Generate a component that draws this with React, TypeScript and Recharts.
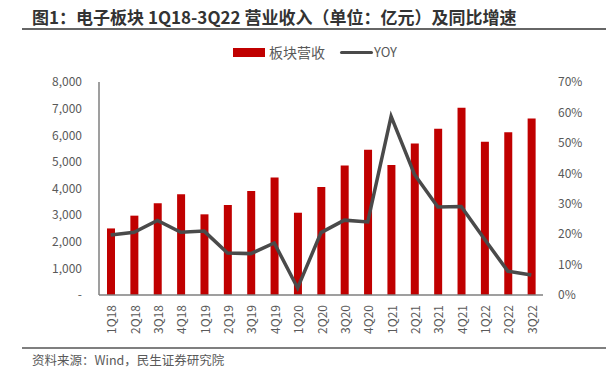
import React from "react";
import {
  ComposedChart,
  Bar,
  Line,
  XAxis,
  YAxis,
} from "recharts";

const quarters = [
  "1Q18", "2Q18", "3Q18", "4Q18",
  "1Q19", "2Q19", "3Q19", "4Q19",
  "1Q20", "2Q20", "3Q20", "4Q20",
  "1Q21", "2Q21", "3Q21", "4Q21",
  "1Q22", "2Q22", "3Q22",
];

// 板块营收（亿元）
const revenue = [
  2500, 2980, 3450, 3780,
  3030, 3380, 3910, 4410,
  3090, 4060, 4860, 5460,
  4880, 5690, 6240, 7030,
  5760, 6110, 6630,
];

// YOY (%)
const yoy = [
  19.7, 20.6, 24.5, 20.6,
  21.0, 13.8, 13.6, 17.1,
  2.3, 20.5, 24.6, 24.0,
  58.7, 39.6, 28.9, 29.1,
  18.3, 7.8, 6.6,
];

const leftTicks = [0, 1000, 2000, 3000, 4000, 5000, 6000, 7000, 8000];
const rightTicks = [0, 10, 20, 30, 40, 50, 60, 70];

const data = quarters.map((q, i) => ({ q, revenue: revenue[i], yoy: yoy[i] }));

const FONT = '"Noto Sans CJK SC", "Noto Sans", sans-serif';
const GRAY = "#595959";
const RED = "#c00000";
const LINE = "#4a4a4a";

const fmtLeft = (v: number) => (v === 0 ? "-" : v.toLocaleString("en-US"));

function QuarterTick(props: any) {
  const { x, y, payload } = props;
  return (
    <text
      x={x}
      y={y}
      transform={`rotate(-90, ${x}, ${y})`}
      textAnchor="end"
      dominantBaseline="central"
      fontSize={12}
      fill={GRAY}
      fontFamily={FONT}
    >
      {payload.value}
    </text>
  );
}

function LegendBox() {
  return (
    <div
      style={{
        position: "absolute",
        top: 42,
        left: 233,
        display: "flex",
        alignItems: "center",
        fontFamily: FONT,
        color: GRAY,
        lineHeight: "20px",
        whiteSpace: "nowrap",
      }}
    >
      <span style={{ width: 32, height: 9, background: RED, display: "inline-block" }} />
      <span style={{ fontSize: 14, marginLeft: 4 }}>板块营收</span>
      <span
        style={{
          width: 33,
          height: 3,
          background: LINE,
          borderRadius: 2,
          display: "inline-block",
          marginLeft: 15,
        }}
      />
      <span style={{ fontSize: 13, marginLeft: 1 }}>YOY</span>
    </div>
  );
}

export default function App() {
  return (
    <div
      style={{
        position: "absolute",
        left: 0,
        top: 0,
        width: 609,
        height: 373,
        background: "#fff",
        fontFamily: FONT,
      }}
    >
      <div
        style={{
          position: "absolute",
          left: 32,
          top: 6,
          fontSize: 17,
          fontWeight: "bold",
          color: "#333",
          lineHeight: "22px",
          whiteSpace: "nowrap",
        }}
      >
        图1：电子板块 1Q18-3Q22 营业收入（单位：亿元）及同比增速
      </div>
      <div
        style={{
          position: "absolute",
          left: 22,
          top: 28,
          width: 584,
          height: 2,
          background: "#666",
        }}
      />

      <ComposedChart
        width={609}
        height={373}
        data={data}
        margin={{ top: 82, right: 20, bottom: 33, left: 20 }}
      >
        <XAxis
          dataKey="q"
          interval={0}
          height={45}
          tickLine={false}
          tickSize={6}
          tickMargin={4}
          axisLine={{ stroke: "#7f7f7f", strokeWidth: 1.5 }}
          tick={<QuarterTick />}
        />
        <YAxis
          yAxisId="left"
          width={79}
          domain={[0, 8000]}
          ticks={leftTicks}
          tickFormatter={fmtLeft}
          tickLine={false}
          tickMargin={11}
          axisLine={{ stroke: "#7f7f7f", strokeWidth: 1.5 }}
          tick={{ fontSize: 12, fill: GRAY, fontFamily: FONT }}
        />
        <YAxis
          yAxisId="right"
          orientation="right"
          width={46}
          domain={[0, 70]}
          ticks={rightTicks}
          tickFormatter={(v: number) => `${v}%`}
          tickLine={false}
          axisLine={false}
          tickMargin={9}
          tick={{ fontSize: 12, fill: GRAY, fontFamily: FONT, textAnchor: "start" }}
        />
        <Bar
          yAxisId="left"
          dataKey="revenue"
          name="板块营收"
          fill={RED}
          barSize={8}
          isAnimationActive={false}
        />
        <Line
          yAxisId="right"
          dataKey="yoy"
          name="YOY"
          type="linear"
          stroke={LINE}
          strokeWidth={3.5}
          dot={false}
          isAnimationActive={false}
        />
      </ComposedChart>

      <LegendBox />

      <div
        style={{
          position: "absolute",
          left: 22,
          top: 347,
          width: 584,
          height: 2,
          background: "#7f7f7f",
        }}
      />
      <div
        style={{
          position: "absolute",
          left: 32,
          top: 351,
          fontSize: 12.5,
          color: GRAY,
          lineHeight: "18px",
          whiteSpace: "nowrap",
        }}
      >
        资料来源：Wind，民生证券研究院
      </div>
    </div>
  );
}
